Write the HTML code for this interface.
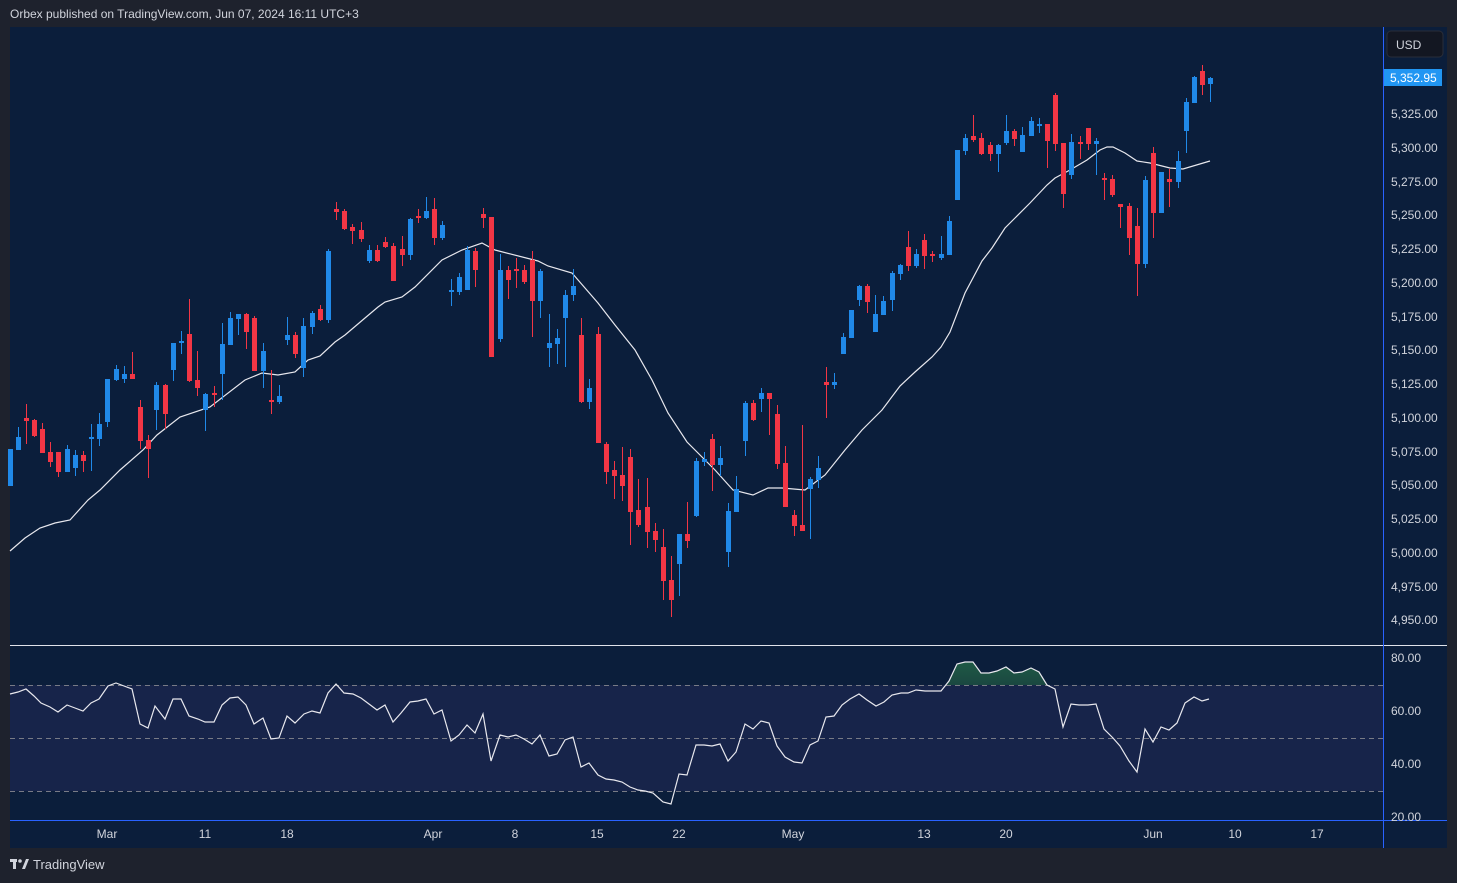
<!DOCTYPE html>
<html><head><meta charset="utf-8"><style>
html,body{margin:0;padding:0;background:#1e222d;width:1457px;height:883px;overflow:hidden;font-family:"Liberation Sans",sans-serif;}
svg{position:absolute;left:0;top:0}
</style></head><body>
<svg width="1457" height="883" xmlns="http://www.w3.org/2000/svg" font-family="Liberation Sans, sans-serif">
<rect width="1457" height="883" fill="#1e222d"/>
<text x="10" y="18" font-size="12" fill="#d1d4dc">Orbex published on TradingView.com, Jun 07, 2024 16:11 UTC+3</text>
<rect x="10" y="27" width="1437" height="821" fill="#0b1e3b"/>
<!-- RSI band -->
<rect x="10" y="685" width="1373" height="106" fill="#17244a"/>
<g stroke="#787b86" stroke-dasharray="5 4" stroke-width="1">
<line x1="10" y1="685.5" x2="1383" y2="685.5"/>
<line x1="10" y1="738.5" x2="1383" y2="738.5"/>
<line x1="10" y1="791.5" x2="1383" y2="791.5"/>
</g>
<defs><clipPath id="ob"><rect x="10" y="640" width="1373" height="45"/></clipPath>
<linearGradient id="gg" x1="0" y1="0" x2="0" y2="1"><stop offset="0" stop-color="#1f5a45"/><stop offset="1" stop-color="#173b3e"/></linearGradient></defs>
<polygon clip-path="url(#ob)" fill="url(#gg)" points="941,691 949,681 957,664 965,662 973,662 981,673 989,673 997,671 1006,667 1014,673 1022,672 1031,668 1039,672 1047,685 1047,700 941,700"/>
<polyline fill="none" stroke="#e8e8ee" stroke-width="1.2" points="10,694 18,692 26,689 34,696 41,703 50,707 58,712 67,705 75,708 83,711 91,703 99,699 108,686 116,683 124,686 132,689 140,724 148,728 155,706 165,719 173,699 181,699 189,716 198,719 205,722 214,722 222,705 230,698 238,697 246,705 254,724 263,718 271,739 279,738 287,716 295,723 304,714 312,711 320,713 328,693 336,684 344,693 353,694 361,698 369,704 377,710 385,705 393,722 401,713 410,702 418,701 426,699 434,714 442,710 451,741 459,735 467,725 475,733 483,714 491,761 500,735 508,737 516,735 524,739 532,744 540,735 549,756 557,754 565,740 573,737 581,767 589,763 598,775 606,779 614,780 622,782 630,787 638,790 645,791 653,793 663,802 671,804 679,774 687,775 696,745 704,745 712,746 720,744 728,761 736,752 745,724 753,729 761,721 769,723 777,746 785,757 794,762 802,763 810,745 818,741 826,717 834,716 842,705 850,699 859,694 867,700 876,706 884,702 892,695 901,693 908,693 916,690 925,691 933,691 941,691 949,681 957,664 965,662 973,662 981,673 989,673 997,671 1006,667 1014,673 1022,672 1031,668 1039,672 1047,685 1055,689 1063,727 1071,704 1079,705 1088,705 1096,704 1104,729 1113,738 1120,746 1129,761 1137,772 1145,729 1153,742 1161,727 1169,730 1177,723 1185,703 1194,697 1202,701 1209,699"/>
<!-- frame lines -->
<line x1="10" y1="645.5" x2="1447" y2="645.5" stroke="#e0e3eb" stroke-width="1"/>
<line x1="10" y1="820.5" x2="1447" y2="820.5" stroke="#2962ff" stroke-width="1"/>
<line x1="1383.5" y1="27" x2="1383.5" y2="848" stroke="#2962ff" stroke-width="1"/>
<!-- MA -->
<polyline fill="none" stroke="#e8e8ee" stroke-width="1.2" points="10,551 25,538 40,528 55,523 70,520 88,500 100,490 120,470 143,450 157,435 180,417 210,407 245,380 262,373 278,375 295,372 308,360 320,356 335,342 345,335 365,318 378,307 385,302 402,297 415,287 442,260 462,250 482,243 495,250 538,261 548,266 572,273 598,303 615,325 635,350 652,380 668,413 687,442 695,450 715,470 733,490 753,495 768,488 782,488 805,490 825,475 845,450 862,430 882,410 900,386 915,372 932,357 941,347 950,332 965,293 982,261 992,248 1005,228 1015,218 1030,203 1047,185 1055,178 1070,170 1087,160 1100,150 1107,147 1113,147 1125,153 1137,161 1150,163 1170,168 1183,169 1210,161"/>
<g id="candles"></g>
<!-- price axis -->
<rect x="1387" y="31" width="56" height="26" rx="4" fill="#131722" stroke="#2a2e39"/>
<text x="1396" y="49" font-size="12" fill="#d1d4dc">USD</text>
<g font-size="12" fill="#d1d4dc">
<text x="1391" y="118">5,325.00</text><text x="1391" y="152">5,300.00</text><text x="1391" y="186">5,275.00</text><text x="1391" y="219">5,250.00</text><text x="1391" y="253">5,225.00</text><text x="1391" y="287">5,200.00</text><text x="1391" y="321">5,175.00</text><text x="1391" y="354">5,150.00</text><text x="1391" y="388">5,125.00</text><text x="1391" y="422">5,100.00</text><text x="1391" y="456">5,075.00</text><text x="1391" y="489">5,050.00</text><text x="1391" y="523">5,025.00</text><text x="1391" y="557">5,000.00</text><text x="1391" y="591">4,975.00</text><text x="1391" y="624">4,950.00</text>
<text x="1391" y="662">80.00</text><text x="1391" y="715">60.00</text><text x="1391" y="768">40.00</text><text x="1391" y="821">20.00</text>
</g>
<rect x="1384" y="69" width="58" height="17" fill="#2196f3"/>
<text x="1390" y="82" font-size="12" fill="#ffffff">5,352.95</text>
<g font-size="12" fill="#d1d4dc" text-anchor="middle">
<text x="107" y="838">Mar</text><text x="205" y="838">11</text><text x="287" y="838">18</text><text x="433" y="838">Apr</text><text x="515" y="838">8</text><text x="597" y="838">15</text><text x="679" y="838">22</text><text x="793" y="838">May</text><text x="924" y="838">13</text><text x="1006" y="838">20</text><text x="1153" y="838">Jun</text><text x="1235" y="838">10</text><text x="1317" y="838">17</text>
</g>
<!-- logo -->
<g fill="#d1d4dc"><rect x="10" y="859" width="7" height="3"/><rect x="13" y="859" width="3" height="10"/><circle cx="20" cy="861" r="1.8"/><polygon points="22,869 26,859 29,859 25,869"/></g>
<text x="33" y="869" font-size="13" fill="#d1d4dc">TradingView</text>
</svg>
<script>
var d=[
[10,449,486,449,486,1],[18,427,450,437,450,1],[26,404,444,418,421,0],[34,419,437,420,436,0],[42,423,453,429,453,0],[50,442,467,452,462,0],[58,452,477,452,472,0],[67,445,472,449,472,1],[75,450,476,455,468,1],[83,451,472,455,461,0],[91,424,471,437,439,1],[99,413,446,424,439,1],[107,379,427,379,422,1],[116,365,381,369,380,1],[124,366,383,374,379,1],[132,352,379,374,379,0],[140,400,449,407,441,0],[148,435,478,440,449,0],[156,382,430,385,410,1],[165,384,429,385,414,0],[173,343,381,343,370,1],[181,331,354,341,343,1],[189,299,382,334,381,0],[197,351,396,380,388,0],[205,393,431,394,410,1],
[214,386,407,393,395,0],[222,323,400,344,374,1],[230,312,345,318,345,1],[238,314,335,314,319,1],[246,313,349,314,332,0],[254,316,371,318,371,0],[263,343,388,351,371,1],[271,370,414,400,402,0],[279,385,404,396,402,1],[287,317,345,335,340,1],[295,332,358,335,354,0],[303,318,377,326,368,1],[312,311,334,313,327,1],[320,305,321,309,320,0],[328,249,323,251,320,1],[336,202,220,209,212,0],[344,209,230,211,229,0],[352,224,244,227,231,0],[361,222,242,230,239,0],[369,245,263,250,261,1],[377,245,262,250,261,0],[385,237,248,242,247,0],[393,243,281,246,281,0],[402,236,266,249,255,0],[410,218,260,219,255,1],[418,209,223,216,218,0],[426,197,219,211,218,1],[434,198,245,209,238,0],[442,221,240,225,238,1],
[451,279,306,290,292,1],[459,273,295,277,292,1],[467,246,290,250,290,1],[475,248,287,251,270,0],[483,208,228,214,218,0],[491,217,357,217,357,0],[500,254,342,270,339,1],[508,266,299,270,280,0],[516,258,288,269,271,0],[524,265,284,270,282,0],[532,251,337,260,301,0],[540,269,318,271,301,1],[549,314,367,343,348,1],[557,329,364,338,344,1],[565,290,367,295,318,1],[573,269,301,286,295,1],[581,318,403,335,402,0],[589,379,409,388,402,1],[598,327,443,334,443,0],
[606,442,484,444,472,0],[614,461,499,470,476,0],[622,447,501,475,486,0],[630,449,545,457,512,0],[638,479,527,510,525,0],[647,478,548,507,532,0],[655,523,552,531,540,0],[663,529,600,547,581,0],[671,556,617,580,600,0],[679,534,596,534,564,1],[687,502,548,534,541,0],[696,458,517,461,516,1],[704,452,466,459,462,1],[712,434,491,439,465,0],[720,446,476,458,465,1],[728,503,567,511,552,1],[736,476,512,489,512,1],[745,401,456,403,441,1],[753,400,421,403,420,0],[761,388,412,393,399,1],[769,393,435,393,399,0],[777,405,469,414,464,0],[785,446,507,463,507,0],[794,510,536,515,526,0],[802,425,531,525,531,0],[810,477,539,479,489,1],[818,456,488,468,480,1],
[826,367,418,382,385,0],[834,373,389,382,385,1],[843,333,354,337,354,1],[851,310,338,310,338,1],[859,285,306,286,300,1],[867,284,313,286,302,0],[875,295,332,314,332,1],[883,296,315,301,315,1],[892,271,311,273,300,1],[900,264,280,265,274,1],[908,231,271,247,266,0],[916,249,268,254,266,1],[924,234,269,240,256,0],[932,251,262,254,256,0],[941,236,260,254,258,1],[949,216,255,221,255,1],[957,150,200,150,200,1],[965,134,155,138,151,1],[973,115,142,136,140,0],[981,133,155,138,154,0],[990,142,161,145,154,0],[998,144,172,145,154,1],[1006,115,145,131,143,1],
[1014,129,146,131,139,0],[1022,127,152,135,152,1],[1031,117,136,121,136,1],[1039,118,133,124,126,1],[1047,124,168,124,141,0],[1055,93,151,95,144,0],[1063,143,208,143,194,0],[1071,134,179,142,175,1],[1080,136,159,142,144,0],[1088,128,150,128,144,0],[1096,138,175,141,144,1],[1104,173,200,178,180,0],[1112,175,197,179,195,0],[1120,204,228,204,207,0],[1129,203,255,206,238,0],[1137,208,296,226,264,0],[1145,176,268,180,264,1],[1153,147,238,153,213,0],[1161,172,213,172,213,1],[1169,169,207,179,182,0],[1178,151,188,161,182,1],[1186,98,153,102,131,1],[1194,76,103,77,103,1],[1202,65,95,71,85,0],[1210,77,102,78,84,1]];
var g=document.getElementById('candles'),s='';
d.forEach(function(c){var col=c[5]?'#2089e8':'#f23645';var bh=Math.max(2,c[4]-c[3]);
s+='<rect x="'+c[0]+'" y="'+c[1]+'" width="1" height="'+(c[2]-c[1])+'" fill="'+col+'"/>';
s+='<rect x="'+(c[0]-2)+'" y="'+c[3]+'" width="5" height="'+bh+'" fill="'+col+'"/>';});
g.innerHTML=s;
</script>
</body></html>
